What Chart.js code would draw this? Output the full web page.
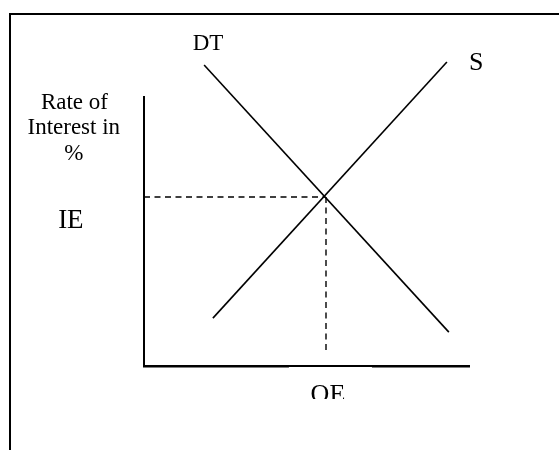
<!DOCTYPE html>
<html>
<head>
<meta charset="utf-8">
<script src="https://cdn.jsdelivr.net/npm/chart.js@4/dist/chart.umd.min.js"></script>
<style>
  html, body { margin: 0; padding: 0; background: #fff; }
  #wrap { position: relative; width: 559px; height: 450px; overflow: hidden; }
  #frame { position: absolute; left: 9px; top: 13px; width: 560px; height: 450px;
           border-top: 2px solid #000; border-left: 2px solid #000; }
  #chart { position: absolute; left: 0; top: 0; }
</style>
</head>
<body>
<div id="wrap">
  <div id="frame"></div>
  <canvas id="chart" width="559" height="450"></canvas>
</div>
<script>
// Curves in chart units (quantity on x, interest rate on y)
const demandCurve = [{ x: 18.5, y: 111.9 }, { x: 93.8, y: 12.6 }];
const supplyCurve = [{ x: 21.2, y: 17.8 }, { x: 93.2, y: 113.0 }];
const rateGuide = [{ x: 0, y: 62.8 }, { x: 55.7, y: 62.8 }];
const qtyGuide = [{ x: 56.0, y: 62.8 }, { x: 56.0, y: 5.2 }];

// Text labels, anchored (centre, baseline) in chart units
const labelTexts = ['DT', 'S', 'Rate of', 'Interest in', '%', 'IE', 'OE'];
const labelX = [19.7, 102.2, -21.4, -21.6, -21.6, -22.5, 56.6];
const labelY = [117.5, 110.0, 95.5, 86.2, 76.6, 51.3, -13.4];
const labelSizes = [23, 26, 23, 23, 23, 27, 26];

const labelPlugin = {
    id: 'labels',
    afterDatasetsDraw(chart) {
        const ctx = chart.ctx;
        const xs = chart.scales.x;
        const ys = chart.scales.y;
        ctx.save();
        ctx.fillStyle = '#000';
        ctx.textAlign = 'center';
        ctx.textBaseline = 'alphabetic';
        labelTexts.forEach((t, i) => {
            const px = xs.getPixelForValue(labelX[i]);
            const py = ys.getPixelForValue(labelY[i]);
            ctx.font = labelSizes[i] + 'px "Liberation Serif", "Times New Roman", serif';
            if (t === 'OE') {
                // white text box of the OE label nibbles the axis and cuts the text off
                ctx.save();
                ctx.fillStyle = '#fff';
                ctx.fillRect(px - 39, chart.chartArea.bottom + 1, 83, 30);
                ctx.beginPath();
                ctx.rect(px - 40, py - 30, 80, 27);
                ctx.clip();
                ctx.fillStyle = '#000';
                ctx.fillText(t, px, py);
                ctx.restore();
            } else {
                ctx.fillText(t, px, py);
            }
        });
        ctx.restore();
    }
};

const solid = { borderColor: '#000', borderWidth: 1.6, pointRadius: 0, showLine: true, fill: false, clip: false };
const dashed = { borderColor: '#000', borderWidth: 1.4, borderDash: [6, 4.5], pointRadius: 0, showLine: true, fill: false, clip: false };

new Chart(document.getElementById('chart'), {
    type: 'scatter',
    data: {
        datasets: [
            { label: 'DT', data: demandCurve, ...solid },
            { label: 'S', data: supplyCurve, ...solid },
            { label: 'IE', data: rateGuide, ...dashed },
            { label: 'OE', data: qtyGuide, ...dashed }
        ]
    },
    options: {
        responsive: false,
        animation: false,
        layout: { padding: { left: 144, top: 97, right: 90, bottom: 84 } },
        plugins: { legend: { display: false }, tooltip: { enabled: false } },
        scales: {
            x: {
                type: 'linear', min: 0, max: 100,
                grid: { display: false, drawTicks: false },
                ticks: { display: false },
                border: { display: true, color: '#000', width: 2.5 }
            },
            y: {
                type: 'linear', min: 0, max: 100,
                grid: { display: false, drawTicks: false },
                ticks: { display: false },
                border: { display: true, color: '#000', width: 2 }
            }
        }
    },
    plugins: [labelPlugin]
});
</script>
</body>
</html>
